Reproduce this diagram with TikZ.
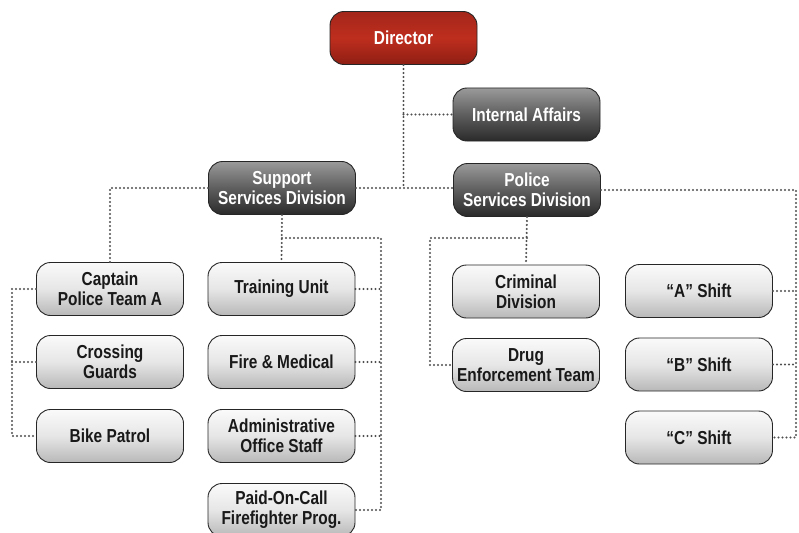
\documentclass[tikz,border=0pt]{standalone}
\usepackage{fontspec}
\setmainfont{Liberation Sans}[FakeStretch=0.82,UprightFont=*-Bold]
\usetikzlibrary{calc}
\definecolor{lineg}{HTML}{4E4E4E}
\definecolor{redtop}{HTML}{A3261A}
\definecolor{redmid}{HTML}{BE2E1E}
\definecolor{redbot}{HTML}{8E1E13}
\definecolor{darktop}{HTML}{9A9A9A}
\definecolor{darkmid}{HTML}{5E5E5E}
\definecolor{darkbot}{HTML}{2A2A2A}
\definecolor{lighttop}{HTML}{FAFAFA}
\definecolor{lightmid}{HTML}{E6E6E6}
\definecolor{lightbot}{HTML}{B8B8B8}
\tikzset{
  box/.style={draw=black!85, line width=0.9pt, rounded corners=14pt,
    minimum width=147pt, minimum height=53pt, align=center, inner sep=1pt,
    font=\fontsize{18.8}{20}\selectfont},
  lightbox/.style={box, top color=lighttop, bottom color=lightbot, middle color=lightmid, text=black!90},
  darkbox/.style={box, top color=darktop, bottom color=darkbot, middle color=darkmid, text=white},
  redbox/.style={box, top color=redtop, bottom color=redbot, middle color=redmid, text=white},
  conn/.style={draw=lineg, line width=2.3pt, line cap=round, dash pattern=on 0pt off 4pt}
}
\begin{document}
\begin{tikzpicture}[x=1pt,y=-1pt]
\useasboundingbox (0,0) rectangle (799,532);
\begin{scope}
\clip (0,0) rectangle (799,532);
\coordinate (sr) at (381,238);
\coordinate (cl) at (12,289);
\coordinate (pl) at (430,238);
\coordinate (pr) at (796,189);
\coordinate (dj) at (403,188);

\node[redbox] (dir) at (403.5,38) {Director};
\node[darkbox] (ia) at (526.5,114.5) {Internal Affairs};
\node[darkbox] (sup) at (282,188) {Support\\Services Division};
\node[darkbox] (pol) at (527,190) {Police\\Services Division};

\node[lightbox] (cap) at (110,289) {Captain\\Police Team A};
\node[lightbox] (cross) at (110,362) {Crossing\\Guards};
\node[lightbox] (bike) at (110,436) {Bike Patrol};

\node[lightbox] (train) at (281.5,289) {Training Unit};
\node[lightbox] (fire) at (281.5,362) {Fire \& Medical};
\node[lightbox] (admin) at (281.5,436) {Administrative\\Office Staff};
\node[lightbox] (paid) at (281.5,510) {Paid-On-Call\\Firefighter Prog.};

\node[lightbox] (crim) at (526,291.5) {Criminal\\Division};
\node[lightbox] (drug) at (526,365) {Drug\\Enforcement Team};

\node[lightbox] (ash) at (699,291) {``A'' Shift};
\node[lightbox] (bsh) at (699,364.5) {``B'' Shift};
\node[lightbox] (csh) at (699,437.5) {``C'' Shift};

% Director links
\draw[conn] (dir.south) -- (dir.south |- dj);
\draw[conn] (dir.south |- ia.west) -- (ia.west);
\draw[conn] (sup.east |- dj) -- (pol.west |- dj);

% Support links
\draw[conn] (sup.west) -| (cap.north);
\draw[conn] (sup.south) -- (train.north);
\draw[conn] (sup.south |- sr) -- (sr) -- (sr |- paid.east) -- (paid.east);
\draw[conn] (train.east) -- (train.east -| sr);
\draw[conn] (fire.east) -- (fire.east -| sr);
\draw[conn] (admin.east) -- (admin.east -| sr);

% Captain links
\draw[conn] (cap.west) -- (cap.west -| cl) -- (bike.west -| cl) -- (bike.west);
\draw[conn] (cross.west) -- (cross.west -| cl);

% Police links
\draw[conn] (pol.south) -- (crim.north);
\draw[conn] (pol.south |- pl) -- (pl) |- (drug.west);
\draw[conn] (pol.east) -- (pol.east -| pr) |- (csh.east);
\draw[conn] (ash.east) -- (ash.east -| pr);
\draw[conn] (bsh.east) -- (bsh.east -| pr);
\end{scope}
\end{tikzpicture}
\end{document}
